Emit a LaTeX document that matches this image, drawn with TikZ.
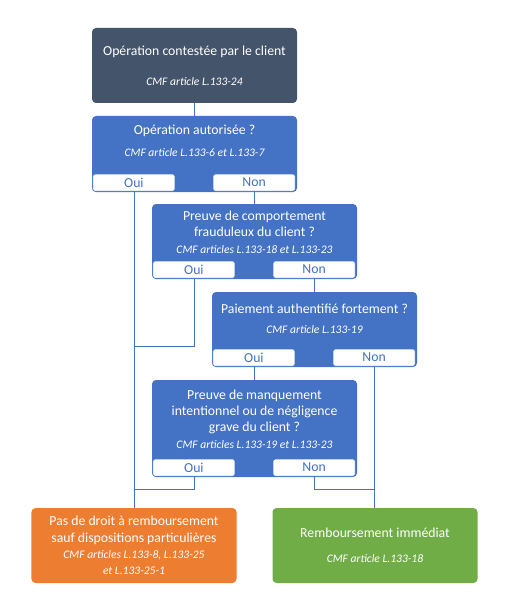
\documentclass[tikz,border=0pt]{standalone}
\usepackage{fontspec}
\setmainfont{Carlito}
\usepackage{xcolor}
\usepackage{tikz}
\usetikzlibrary{calc}
\usetikzlibrary{positioning}
\definecolor{qblue}{HTML}{4472C4}
\definecolor{slate}{HTML}{44546A}
\definecolor{orangebox}{HTML}{ED7D31}
\definecolor{greenbox}{HTML}{70AD47}
\newcommand{\cmf}[1]{{\fontsize{11.6}{14}\selectfont\itshape #1}}

\begin{document}
\begin{tikzpicture}[x=1bp,y=-1bp,line width=0.8bp,font=\fontsize{13.8}{16.5}\selectfont]
 				 \tikzstyle{box}=[rounded corners=4bp, minimum width=205bp, minimum height=75bp, inner sep=0pt, text=white, align=center]
 				 \tikzstyle{quest}=[box, fill=qblue]
 				 \tikzstyle{tab}=[draw=qblue, fill=white, text=qblue, rounded corners=2bp, minimum width=82bp, minimum height=17bp, inner sep=0pt, line width=0.6bp]
 				 \tikzstyle{txt}=[text=white, align=center, inner sep=0pt]
 				 \tikzstyle{link}=[draw=qblue]
 					 \useasboundingbox (0,0) rectangle (517,603);
 					 \node[box, fill=slate]      (A) at (194.5,65.5)  {Opération contestée par le client\\[14bp]\cmf{CMF article L.133-24}};
 					 \node[quest, minimum height=76bp] (B) at (194.5,154) {};
 					 \node[txt]                  (Bt) at (194.5,141)  {Opération autorisée ?\\[6bp]\cmf{CMF article L.133-6 et L.133-7}};
 					 \node[quest]                (C) at (254.5,241.5) {};
 					 \node[txt]                  (Ct) at (254.5,232)  {Preuve de comportement\\frauduleux du client ?\\\cmf{CMF articles L.133-18 et L.133-23}};
 					 \node[quest]                (D) at (314.5,329.5) {};
 					 \node[txt]                  (Dt) at (314.5,319)  {Paiement authentifié fortement ?\\[4bp]\cmf{CMF article L.133-19}};
 					 \node[quest, minimum height=97bp] (E) at (254.5,428.5) {};
 					 \node[txt]                  (Et) at (254.5,419)  {Preuve de manquement\\intentionnel ou de négligence\\grave du client ?\\\cmf{CMF articles L.133-19 et L.133-23}};
 					 \node[box, fill=orangebox]  (F) at (134,545.5)   {Pas de droit à remboursement\\sauf dispositions particulières\\\cmf{CMF articles L.133-8, L.133-25}\\\cmf{et L.133-25-1}};
 					 \node[box, fill=greenbox]   (G) at (375,545.5)   {Remboursement immédiat\\[9bp]\cmf{CMF article L.133-18}};
 					 \node[tab, anchor=south west] (Bo) at ([shift={(1,-1)}]B.south west) {Oui};
 					 \node[tab, anchor=south east] (Bn) at ([shift={(-2,-1)}]B.south east) {Non};
 					 \node[tab, anchor=south west] (Co) at ([shift={(1,-1)}]C.south west) {Oui};
 					 \node[tab, anchor=south east] (Cn) at ([shift={(-2,-1)}]C.south east) {Non};
 					 \node[tab, anchor=south west] (Do) at ([shift={(1,-1)}]D.south west) {Oui};
 					 \node[tab, anchor=south east] (Dn) at ([shift={(-2,-1)}]D.south east) {Non};
 					 \node[tab, anchor=south west] (Eo) at ([shift={(1,-1)}]E.south west) {Oui};
 					 \node[tab, anchor=south east] (En) at ([shift={(-2,-1)}]E.south east) {Non};
 					 \coordinate (J1) at (134,346);
 					 \coordinate (J2) at (134,489);
 					 \coordinate (J3) at (374,489);
				\path[link]
				(A.south) edge (B.north)
				(Bo.south) edge (Bo.south |- F.north)
				(Bn.south) edge (Bn.south |- C.north)
				(Cn.south) edge (Cn.south |- D.north)
				(Do.south) edge (Do.south |- E.north)
				(Dn.south) edge (Dn.south |- G.north);
				\draw[link] (Co.south) |- (J1);
				\draw[link] (Eo.south) |- (J2);
				\draw[link] (En.south) |- (J3);
\end{tikzpicture}
\end{document}
